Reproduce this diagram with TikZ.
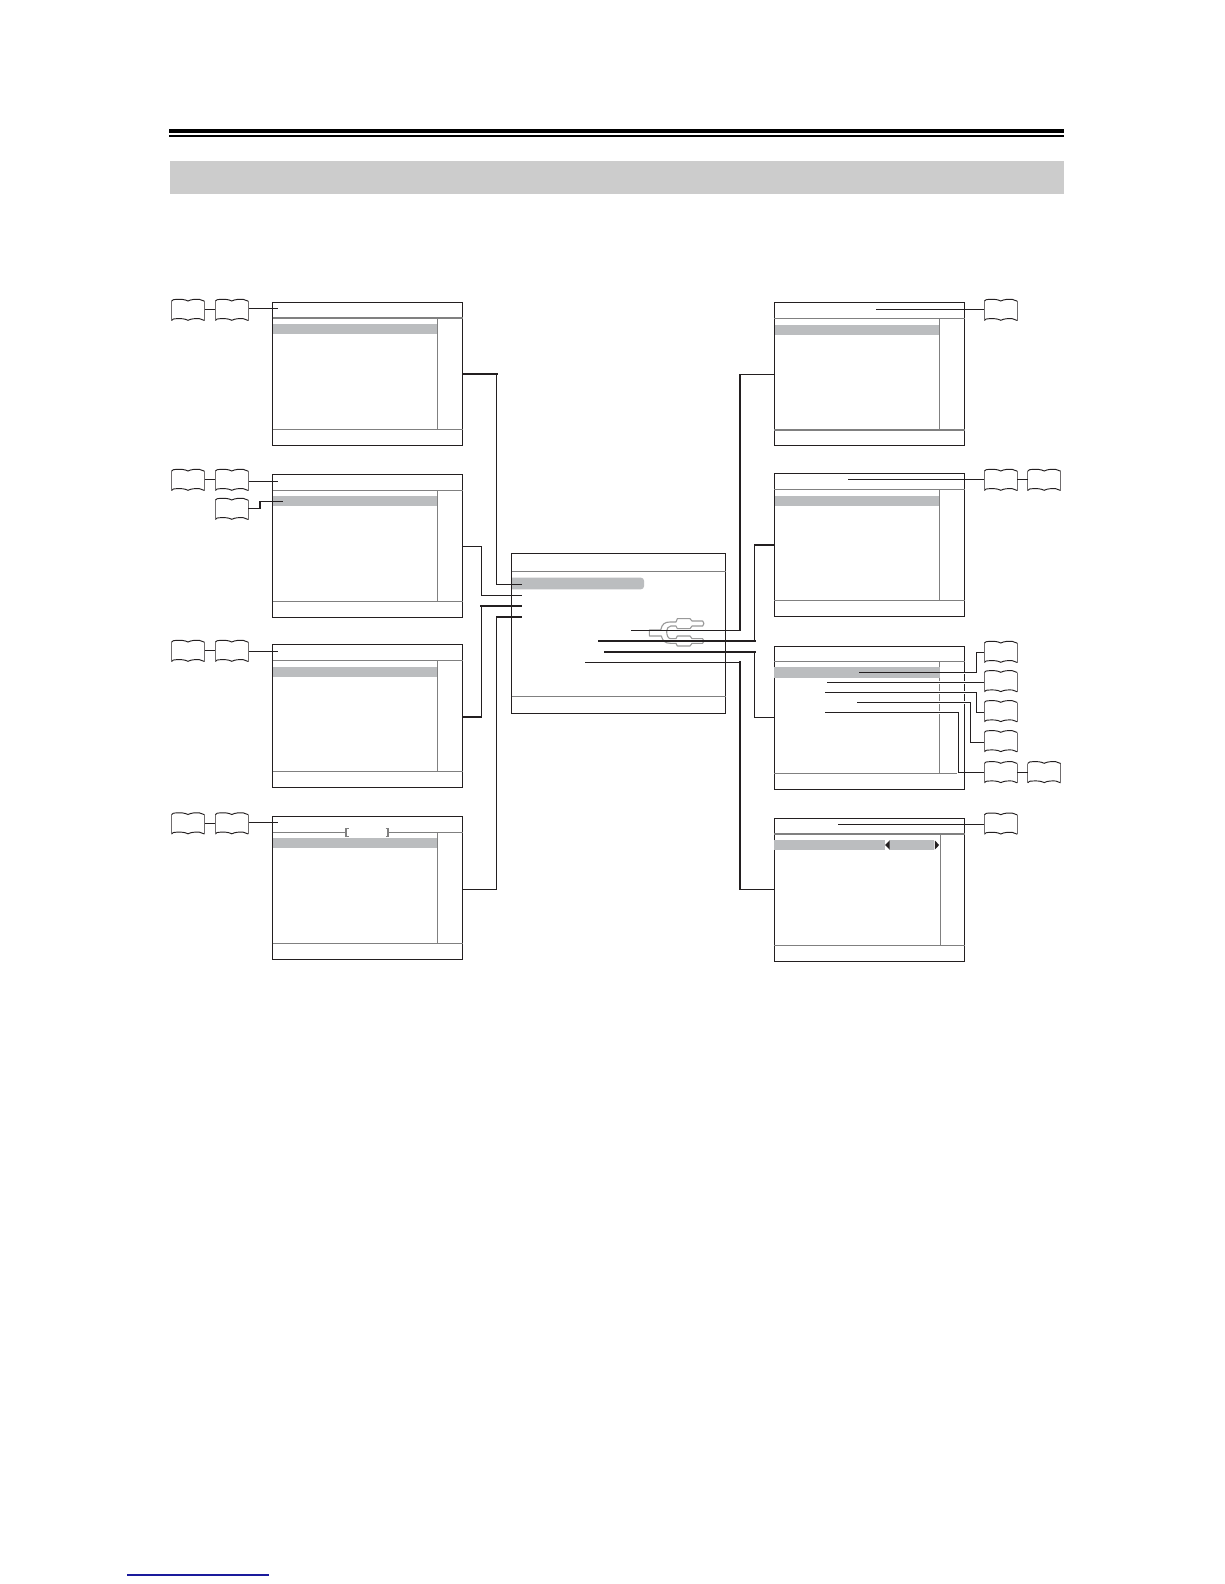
\documentclass[tikz,border=0pt]{standalone}
\usetikzlibrary{calc}
\definecolor{ink}{HTML}{231F20}
\definecolor{hl}{HTML}{BBBDBF}
\definecolor{band}{HTML}{CCCCCC}
\definecolor{rule}{HTML}{808080}
\definecolor{linkblue}{HTML}{1A1A9C}
\tikzset{
  screenbox/.style={rectangle,draw=ink,line width=1.1pt,inner sep=0pt,outer sep=0pt,minimum width=190.2pt,minimum height=143pt,anchor=north west},
  bookbox/.style={rectangle,inner sep=0pt,outer sep=0pt,minimum width=33pt,minimum height=21.5pt},
  thinrule/.style={draw=rule,line width=0.9pt},
  fatrule/.style={draw=rule,line width=1.9pt},
  conn/.style={draw=ink,line width=1.1pt,line cap=rect},
  connthick/.style={draw=ink,line width=2pt,line cap=rect},
  casing/.style={draw=white,line width=2.2pt},
  bookedge/.style={draw=ink,line width=0.95pt},
  bookside/.style={draw=ink!65,line width=1.15pt}
}
\newcommand{\scrn}[3]{%
  \fill[hl] (#2,#3+22) rectangle (#2+164.8,#3+32);
  \node[screenbox] (#1) at (#2,#3) {};
  \draw[thinrule] (#2+164.8,#3+16) -- (#2+164.8,#3+127);
}
\newcommand{\book}[3]{%
  \node[bookbox] (#1) at (#2+16.5,#3+10.75) {};
  \begin{scope}[shift={(#2,#3)}]
    \draw[bookedge] (0,2.2) .. controls (1.5,0.6) .. (5,0.4) .. controls (9,0.2) and (13,0.2) .. (16.5,2) .. controls (20,0.2) and (24,0.2) .. (28,0.4) .. controls (31,0.6) .. (33,2.2);
    \draw[bookedge] (0,21.5) .. controls (1.5,19.9) .. (5,19.7) .. controls (9,19.5) and (13,19.5) .. (16.5,21.3) .. controls (20,19.5) and (24,19.5) .. (28,19.7) .. controls (31,19.9) .. (33,21.5);
    \draw[bookside] (0,2.2) -- (0,21.5) (33,2.2) -- (33,21.5);
  \end{scope}
}
\begin{document}
\begin{tikzpicture}[x=1pt,y=-1pt]
\useasboundingbox (0,0) rectangle (1224,1584);
\fill[white] (0,0) rectangle (1224,1584);
% page head
\fill[black] (169,129) rectangle (1063.5,132.6);
\fill[black] (169,135.4) rectangle (1063.5,136.6);
\fill[band] (170,161) rectangle (1063.5,193.7);
\draw[linkblue,line width=1.2pt] (127.3,1575) -- (269,1575);

% left screens
\scrn{sa}{272.5}{302.3}
\draw[fatrule] (272.5,317.7) -- (462.7,317.7);
\draw[thinrule] (272.5,429.3) -- (462.7,429.3);
\scrn{sb}{272.5}{474.3}
\draw[thinrule] (272.5,490.3) -- (462.7,490.3);
\draw[thinrule] (272.5,601.3) -- (462.7,601.3);
\scrn{sc}{272.5}{644.5}
\draw[thinrule] (272.5,660.5) -- (462.7,660.5);
\draw[thinrule] (272.5,771.5) -- (462.7,771.5);
\scrn{sd}{272.5}{816.3}
\draw[thinrule] (272.5,832.3) -- (345,832.3);
\draw[thinrule] (388.7,832.3) -- (462.7,832.3);
\draw[draw=rule,line width=1.5pt] (348.5,828.5) -- (346,828.5) -- (346,836.5) -- (348.5,836.5);
\draw[draw=rule,line width=1.5pt] (385.5,828.5) -- (388,828.5) -- (388,836.5) -- (385.5,836.5);
\draw[thinrule] (272.5,943.3) -- (462.7,943.3);

% right screens
\scrn{ra}{774.3}{302.5}
\draw[thinrule] (774.3,318.3) -- (964.5,318.3);
\draw[fatrule] (774.3,430) -- (964.5,430);
\scrn{rb}{774.3}{473.5}
\draw[thinrule] (774.3,489.3) -- (964.5,489.3);
\draw[thinrule] (774.3,600.3) -- (964.5,600.3);
\scrn{rc}{774.3}{646.3}
\fill[hl] (774.3,667) rectangle (939.5,678);
\draw[thinrule] (774.3,661.3) -- (964.5,661.3);
\draw[thinrule] (774.3,773.3) -- (957,773.3);
\node[screenbox] (rd) at (774.3,818.3) {};
\fill[hl] (774.3,840) rectangle (885,850);
\fill[hl] (889,840) rectangle (934.3,850);
\fill[ink] (885.2,845) -- (889.6,840.5) -- (889.6,849.5) -- cycle;
\fill[ink] (939.2,845) -- (934.8,840.5) -- (934.8,849.5) -- cycle;
\draw[fatrule] (774.3,833.7) -- (964.5,833.7);
\draw[thinrule] (940,833.7) -- (940,945.3);
\draw[thinrule] (774.3,945.3) -- (964.5,945.3);

% centre screen
\fill[hl,rounded corners=3pt] (505,577.7) rectangle (644,589.3);
\fill[white] (500,575) rectangle (511.2,592);
\node[rectangle,draw=ink,line width=1.1pt,inner sep=0pt,outer sep=0pt,minimum width=214pt,minimum height=160.4pt,anchor=north west] (cen) at (511.7,553.3) {};
\draw[thinrule] (511.7,571.3) -- (725.7,571.3);
\draw[thinrule] (511.7,696) -- (725.7,696);

% RCA plug outline
\begin{scope}[shift={(640,610)},x=0.3333pt,y=-0.3333pt]
\draw[draw=rule!80,line width=1.1pt,line join=round]
  (28,60) -- (62,60) .. controls (66,42) and (74,36) .. (90,36) -- (108,36) -- (112,26) -- (150,26) -- (156,33) -- (188,33)
  .. controls (193,36) and (193,45) .. (188,48) -- (156,48) -- (150,56) -- (112,56) -- (108,48) -- (92,48)
  .. controls (84,50) and (80,56) .. (80,64) .. controls (80,76) and (84,86) .. (92,86) -- (108,86) -- (112,78) -- (150,78) -- (156,86) -- (188,86)
  .. controls (193,89) and (193,97) .. (188,100) -- (156,100) -- (150,108) -- (112,108) -- (108,100) -- (92,100)
  .. controls (74,100) and (68,92) .. (64,78) -- (28,78) -- cycle;
\end{scope}

% books
\book{ba}{171.5}{299}
\book{bb}{215.3}{299}
\book{bc}{171.5}{469}
\book{bd}{215.3}{469}
\book{be}{215.3}{498}
\book{bf}{171.5}{640}
\book{bg}{215.3}{640}
\book{bh}{171.5}{812.5}
\book{bi}{215.3}{812.5}
\book{bj}{984.3}{299}
\book{bk}{984.3}{469}
\book{bl}{1027.7}{469}
\book{bm}{984.3}{641}
\book{bn}{984.3}{670.3}
\book{bo}{984.3}{700.3}
\book{bp}{984.3}{730.3}
\book{bq}{984.3}{761.3}
\book{br}{1027.7}{761.3}
\book{bs}{984.3}{812.7}

% book to book links
\draw[conn,line cap=butt] (ba.east) -- (bb.west);
\draw[conn,line cap=butt] (bc.east) -- (bd.west);
\draw[conn,line cap=butt] (bf.east) -- (bg.west);
\draw[conn,line cap=butt] (bh.east) -- (bi.west);
\draw[conn,line cap=butt] (bk.east) -- (bl.west);
\draw[conn,line cap=butt] (bq.east) -- (br.west);

% book to screen: left
\coordinate (ta) at (278.3,308.4);
\coordinate (tb) at (278.3,481.4);
\coordinate (te) at (283,501.4);
\coordinate (tf) at (260,501.4);
\coordinate (tc) at (278.3,651.4);
\coordinate (td) at (278.3,822.4);
\draw[conn,line cap=butt] ($(ta -| bb.east)+(1,0)$) -- (ta);
\draw[conn,line cap=butt] ($(tb -| bd.east)+(1,0)$) -- (tb);
\draw[conn,line cap=butt] ($(tc -| bg.east)+(1,0)$) -- (tc);
\draw[conn,line cap=butt] ($(td -| bi.east)+(1,0)$) -- (td);
\draw[conn,line cap=butt] (be.east) -| (tf) -- (te);

% book to screen: right
\coordinate (ua) at (876,309.4);
\coordinate (ub) at (848,479.4);
\coordinate (ud) at (838.3,824.4);
\draw[conn,line cap=butt] (ua) -- (ua -| bj.west);
\draw[conn,line cap=butt] (ub) -- (ub -| bk.west);
\draw[conn,line cap=butt] (ud) -- (ud -| bs.west);

% third right screen item lines
\coordinate (v1) at (859,672.6);
\coordinate (v2) at (827.3,682.4);
\coordinate (v3) at (825,692.4);
\coordinate (v4) at (857.3,702.4);
\coordinate (v5) at (825,712.4);
\coordinate (w1) at (976.3,672.6);
\coordinate (w3) at (976.3,692.4);
\coordinate (w4) at (970.7,702.4);
\coordinate (w5) at (958.3,712.4);
\coordinate (x1) at (976.3,652.4);
\coordinate (x3) at (976.3,712.4);
\coordinate (x4) at (970.7,742.4);
\coordinate (x5) at (958.3,772.4);
\coordinate (y1) at (984.3,652.4);
\coordinate (y3) at (984.3,712.4);
\coordinate (y4) at (984.3,742.4);
\coordinate (y5) at (984.3,772.4);
\draw[casing] (v1 -| rc.east) ++(-24,0) -- (v1 -| rc.east);
\draw[casing] (v2 -| rc.east) ++(-26,0) -- (v2 -| rc.east);
\draw[casing] (v3 -| rc.east) ++(-26,0) -- (v3 -| rc.east);
\draw[casing] (v4 -| rc.east) ++(-26,0) -- (v4 -| rc.east);
\draw[casing] (v5 -| rc.east) ++(-26,0) -- (w5);
\draw[conn,line cap=butt,line join=miter] (v1) -- (w1) -- (x1) -- (y1);
\draw[conn,line cap=butt] (v2) -- (v2 -| bn.west);
\draw[conn,line cap=butt,line join=miter] (v3) -- (w3) -- (x3) -- (y3);
\draw[conn,line cap=butt,line join=miter] (v4) -- (w4) -- (x4) -- (y4);
\draw[conn,line cap=butt,line join=miter] (v5) -- (w5) -- (x5) -- (y5);

% connectors: left
\coordinate (la1) at (496.7,374);
\coordinate (la2) at (496.7,584.4);
\coordinate (la3) at (521,584.4);
\coordinate (lb1) at (481.3,546.4);
\coordinate (lb2) at (481.3,595.4);
\coordinate (lb3) at (521,595.4);
\coordinate (lc1) at (481.3,717);
\coordinate (lc2) at (481.3,606);
\coordinate (lc3) at (521,606);
\coordinate (ld1) at (496.7,889.4);
\coordinate (ld2) at (496.7,617);
\coordinate (ld3) at (521,617);
\draw[connthick] (la1 -| sa.east) -- (la1);
\draw[conn] (la1) -- (la2) -- (la3);
\draw[conn] (lb1 -| sb.east) -- (lb1) -- (lb2) -- (lb3);
\draw[connthick] (lc1 -| sc.east) -- (lc1);
\draw[conn] (lc1) -- (lc2);
\draw[connthick] (lc2) -- (lc3);
\draw[conn] (ld1 -| sd.east) -- (ld1) -- (ld2);
\draw[connthick] (ld2) -- (ld3);

% connectors: right
\coordinate (ra1) at (740,374.6);
\coordinate (ra2) at (740,630.4);
\coordinate (ra3) at (632,630.4);
\coordinate (rb1) at (754.5,545);
\coordinate (rb2) at (754.5,641);
\coordinate (rb3) at (599,641);
\coordinate (rc1) at (754.5,717.4);
\coordinate (rc2) at (754.5,652);
\coordinate (rc3) at (605,652);
\coordinate (rd1) at (740,889.4);
\coordinate (rd2) at (740,662.4);
\coordinate (rd3) at (586,662.4);
\draw[conn] (ra1 -| ra.west) -- (ra1);
\draw[connthick] (ra1) -- (ra2);
\draw[conn] (ra2) -- (ra3);
\draw[connthick] (rb1 -| rb.west) -- (rb1);
\draw[conn] (rb1) -- (rb2);
\draw[connthick] (rb2) -- (rb3);
\draw[conn] (rc1 -| rc.west) -- (rc1) -- (rc2);
\draw[connthick] (rc2) -- (rc3);
\draw[conn] (rd1 -| rd.west) -- (rd1);
\draw[connthick] (rd1) -- (rd2);
\draw[conn] (rd2) -- (rd3);
\end{tikzpicture}
\end{document}
